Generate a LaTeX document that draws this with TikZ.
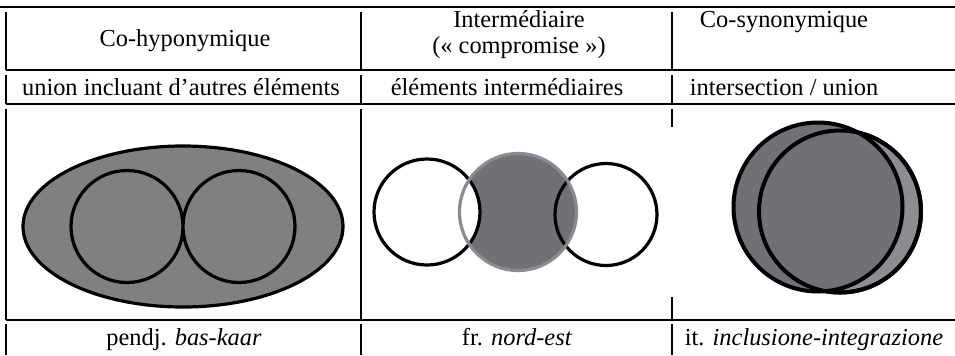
\documentclass[tikz,border=0pt]{standalone}
\usepackage{fontspec}
\setmainfont{Liberation Serif}
\usetikzlibrary{positioning}
\definecolor{ovalgray}{RGB}{128,128,128}
\definecolor{diskgray}{RGB}{112,113,118}
\definecolor{ringgray}{RGB}{138,139,144}
\definecolor{palegray}{RGB}{140,141,146}

\begin{document}
\begin{tikzpicture}[x=0.5pt,y=-0.5pt,
	rule/.style={line width=0.9pt},
	celltext/.style={anchor=base, inner sep=0pt, font=\fontsize{12.2}{14}\selectfont},
	setline/.style={line width=1.6pt}]
	\useasboundingbox (0,0) rectangle (955,355);
	% rules of the table
	\draw[rule] (0,7) -- (955,7);
	\foreach \y in {70,104,320}
		\draw[rule] (6,\y) -- (955,\y);
	\foreach \x in {6,361,672}{
		\draw[rule] (\x,12) -- (\x,70);
		\draw[rule] (\x,75) -- (\x,104);
		\draw[rule] (\x,324) -- (\x,355);}
	\foreach \x in {6,361}
		\draw[rule] (\x,109) -- (\x,320);
	\draw[rule] (672,109) -- (672,127) (672,297) -- (672,320);
	% headings
	\node[celltext] (hypo) at (185,46) {Co-hyponymique};
	\node[celltext] (inter) at (519,27) {Intermédiaire};
	\node[celltext] (compr) at (519,53) {(« compromise »)};
	\node[celltext] (syno) at (784,27) {Co-synonymique};
	\node[celltext] (union) at (181,95) {union incluant d’autres éléments};
	\node[celltext] (elem) at (507,95) {éléments intermédiaires};
	\node[celltext] (inters) at (784,95) {intersection / union};
	% examples
	\node[celltext] (pendj) at (184,345) {pendj. \textit{bas-kaar}};
	\node[celltext] (fr) at (517,345) {fr. \textit{nord-est}};
	\node[celltext] (it) at (814,345) {it. \textit{inclusione-integrazione}};
	% co-hyponymic
	\draw[setline, fill=ovalgray] (183,226.5) ellipse [x radius=160, y radius=80.5];
	\draw[setline] (127,226.5) circle (56) (239,226.5) circle (56);
	% intermediate
	\fill[diskgray] (518,212) circle (59);
	\draw[setline, fill=white] (427,212) circle (53);
	\draw[setline] (606,214.5) circle (51);
	\draw[ringgray, line width=1.6pt] (518,212) circle (58.5);
	% co-synonymic
	\draw[line width=2pt, fill=palegray] (840,211.5) circle (81);
	\draw[line width=2pt, fill=diskgray] (818,207) circle (84.5);
	\draw[line width=2pt] (840,211.5) circle (81);
\end{tikzpicture}
\end{document}
